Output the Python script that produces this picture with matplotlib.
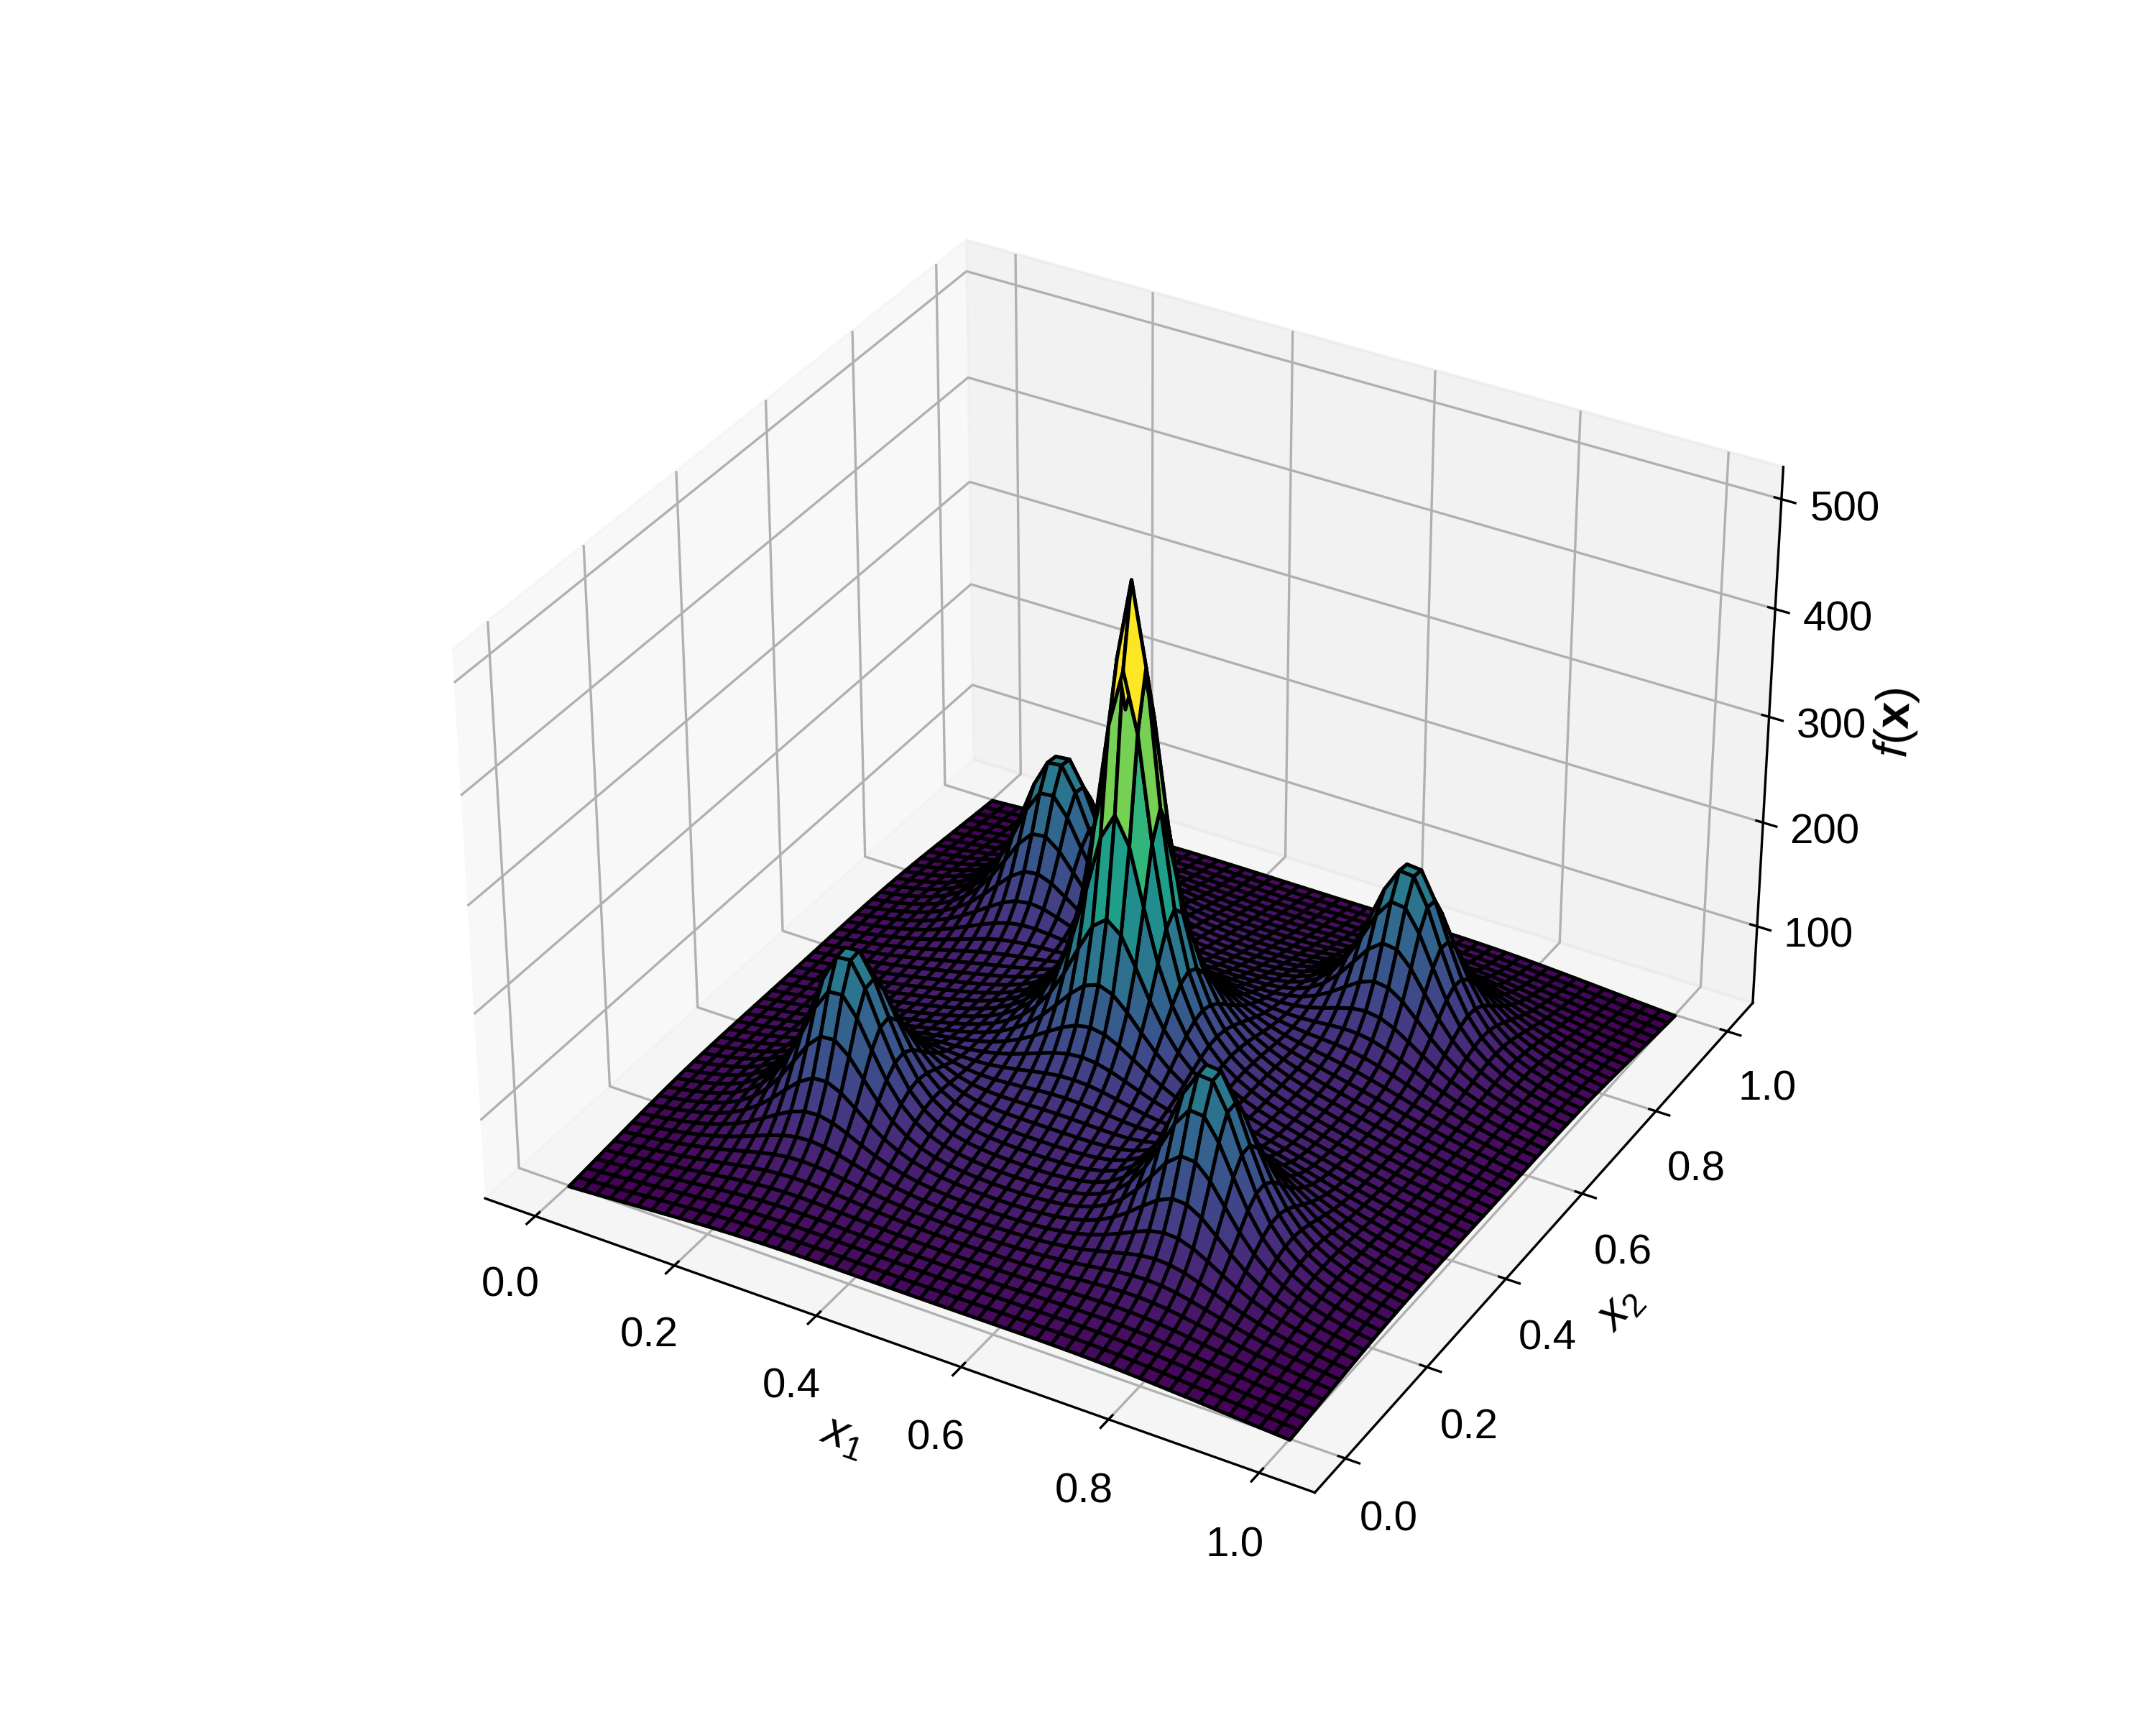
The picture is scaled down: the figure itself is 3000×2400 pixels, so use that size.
import numpy as np
import matplotlib
matplotlib.use('Agg')
import matplotlib.pyplot as plt

plt.rcParams['font.family'] = ['Liberation Sans', 'DejaVu Sans']
plt.rcParams['mathtext.fontset'] = 'custom'
plt.rcParams['mathtext.rm'] = 'Liberation Sans'
plt.rcParams['mathtext.it'] = 'Liberation Sans:italic'
plt.rcParams['mathtext.bf'] = 'Liberation Sans:bold'
plt.rcParams['font.size'] = 14

# peaks
peak_x1 = [0.5, 0.25, 0.25, 0.75, 0.75]
peak_x2 = [0.5, 0.25, 0.75, 0.25, 0.75]
peak_height = [450, 160, 160, 160, 160]
peak_width = [0.045, 0.095, 0.095, 0.095, 0.095]
peak_power = [1, 2, 2, 2, 2]
baseline = 5
tail_height = [20, 18, 18, 18, 18]
tail_width = [0.3, 0.3, 0.3, 0.3, 0.3]

x1 = np.linspace(0, 1, 51)
x2 = np.linspace(0, 1, 51)
X1, X2 = np.meshgrid(x1, x2)

Z = np.full(X1.shape, float(baseline))
for px, py, h, w, p, th, tw in zip(peak_x1, peak_x2, peak_height, peak_width,
                                   peak_power, tail_height, tail_width):
    r2 = (X1 - px) ** 2 + (X2 - py) ** 2
    Z += h / (1 + r2 / w ** 2) ** p + th / (1 + r2 / tw ** 2)

fig = plt.figure(figsize=(10, 8), dpi=300)
ax = fig.add_subplot(111, projection='3d')
ax.set_position([0.129, 0.121, 0.775, 0.77])
ax._dist = 5.5  # stronger perspective than the default
ax.set_box_aspect((4, 4, 2.72), zoom=1.09)
ax.plot_surface(X1, X2, Z, cmap='viridis', rstride=1, cstride=1,
                edgecolor='k', linewidth=1.2)
ax.view_init(elev=33, azim=-60)
ax.set_xlabel('$x_1$', fontsize=16, labelpad=0)
ax.set_ylabel('$x_2$', fontsize=16, labelpad=0)
ax.set_zlabel(r'$f(\mathbf{x})$', fontsize=16, labelpad=3)
ax.set_xticks([0, 0.2, 0.4, 0.6, 0.8, 1.0])
ax.set_yticks([0, 0.2, 0.4, 0.6, 0.8, 1.0])
ax.set_zlim(25, 529)
ax.set_zticks([100, 200, 300, 400, 500])

fig.savefig('out.png')
